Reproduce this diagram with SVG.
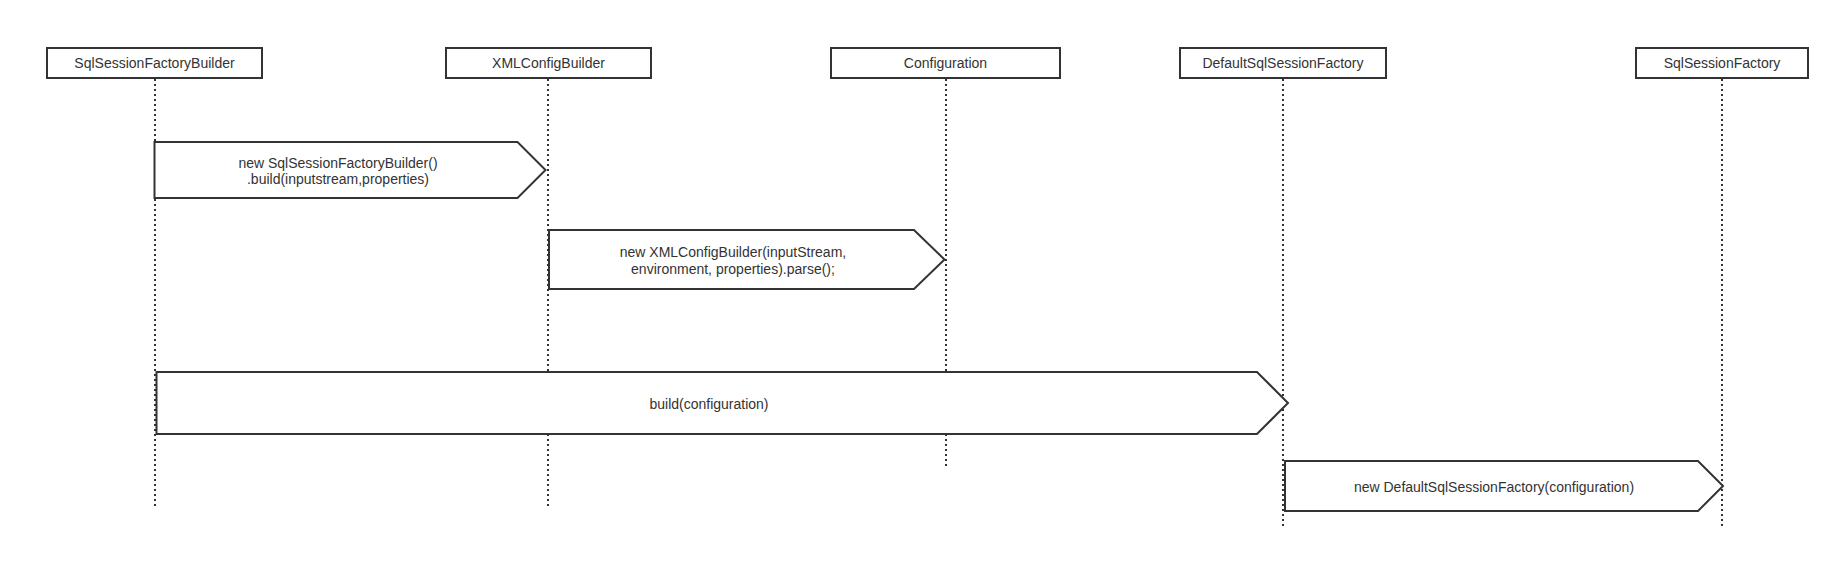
<svg xmlns="http://www.w3.org/2000/svg" width="1840" height="563" viewBox="0 0 1840 563">
<style>
.box{fill:#fff;stroke:#333;stroke-width:2}
.life{stroke:#333;stroke-width:2;stroke-dasharray:2 3;fill:none}
.msg{fill:#fff;stroke:#333;stroke-width:2;stroke-linejoin:miter}
text{font-family:"Liberation Sans",Arial,sans-serif;font-size:14px;fill:#333;text-anchor:middle}
</style>
<rect width="1840" height="563" fill="#fff"/>
<g id="lifelines">
<line class="life" x1="155" y1="79" x2="155" y2="509"/>
<line class="life" x1="548" y1="79" x2="548" y2="506"/>
<line class="life" x1="946" y1="79" x2="946" y2="466"/>
<line class="life" x1="1283" y1="79" x2="1283" y2="529"/>
<line class="life" x1="1722" y1="79" x2="1722" y2="526"/>
</g>
<g id="n1"><rect class="box" x="47" y="48" width="215" height="30"/><text x="154.5" y="68">SqlSessionFactoryBuilder</text></g>
<g id="n2"><rect class="box" x="446" y="48" width="205" height="30"/><text x="548.5" y="68">XMLConfigBuilder</text></g>
<g id="n3"><rect class="box" x="831" y="48" width="229" height="30"/><text x="945.5" y="68">Configuration</text></g>
<g id="n4"><rect class="box" x="1180" y="48" width="206" height="30"/><text x="1283" y="68">DefaultSqlSessionFactory</text></g>
<g id="n5"><rect class="box" x="1636" y="48" width="172" height="30"/><text x="1722" y="68">SqlSessionFactory</text></g>
<g id="connectors">
<g id="m1"><polygon class="msg" points="154.5,142 517.5,142 545.5,170 517.5,198 154.5,198"/><text x="338" y="168">new SqlSessionFactoryBuilder()</text><text x="338" y="184">.build(inputstream,properties)</text></g>
<g id="m2"><polygon class="msg" points="549,230 914,230 944.5,259.5 914,289 549,289"/><text x="733" y="257">new XMLConfigBuilder(inputStream,</text><text x="733" y="274">environment, properties).parse();</text></g>
<g id="m3"><polygon class="msg" points="156.5,372 1257,372 1288,403 1257,434 156.5,434"/><text x="709" y="409">build(configuration)</text></g>
<g id="m4"><polygon class="msg" points="1285,461 1698,461 1723,486 1698,511 1285,511"/><text x="1494" y="492">new DefaultSqlSessionFactory(configuration)</text></g>
</g>
</svg>
